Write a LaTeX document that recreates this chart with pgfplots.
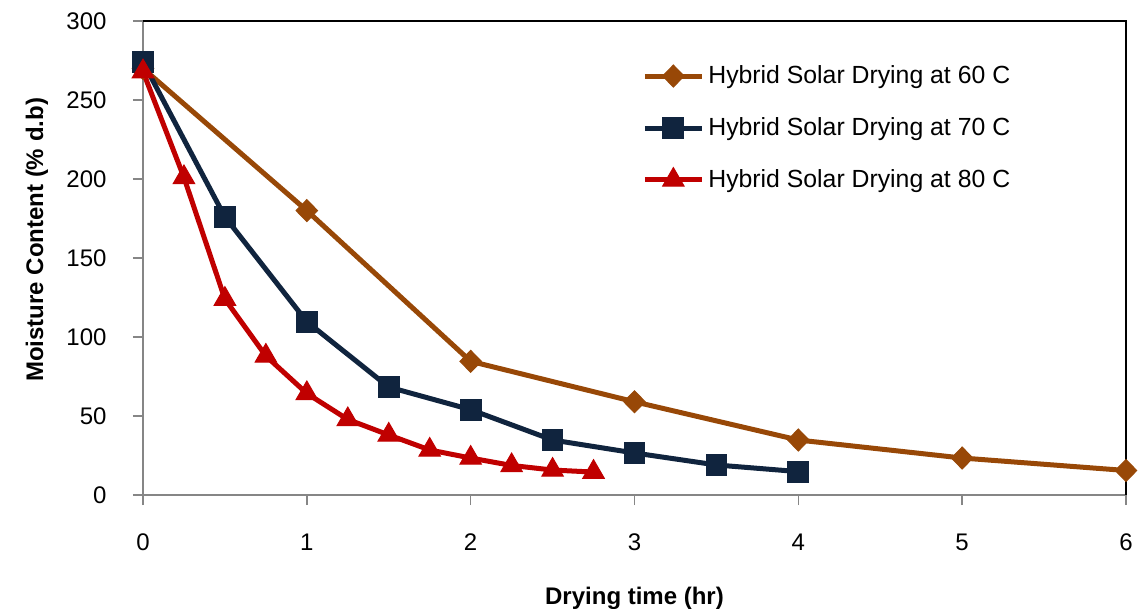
\documentclass[border=0pt]{standalone}
\usepackage{pgfplots}
\pgfplotsset{compat=1.18}
\usepackage{fontspec}
\setmainfont{Liberation Sans}
\definecolor{cBrown}{HTML}{984807}
\definecolor{cNavy}{HTML}{10243E}
\definecolor{cRed}{HTML}{C00000}
\definecolor{cGray}{HTML}{868686}
\begin{document}
\begin{tikzpicture}
\begin{axis}[
  at={(0,0)}, anchor=south west,
  scale only axis, width=491.5pt, height=237pt,
  xmin=0, xmax=6, ymin=0, ymax=300,
  xtick={0,1,2,3,4,5,6}, ytick={0,50,100,150,200,250,300},
  xtick pos=bottom, ytick pos=left,
  tick align=outside, major tick length=5pt,
  tick style={cGray, line width=0.8pt},
  axis line style={cGray, line width=0.8pt},
  clip=false,
  font=\fontsize{12}{14}\selectfont,
  /pgf/number format/assume math mode=true,
  xticklabel style={yshift=-11pt},
  yticklabel style={xshift=-9.7pt},
  xlabel={\bfseries Drying time (hr)},
  ylabel={\bfseries Moisture Content (\% d.b)},
  xlabel style={at={(axis description cs:0.5,-0.23)}, anchor=base},
  ylabel style={at={(axis description cs:-0.1017,0.538)}, anchor=base, rotate=0},
  legend cell align=left,
  legend style={draw=none, fill=none, at={(axis description cs:0.5015,0.9237)}, anchor=north west,
    font=\fontsize{12.4}{14}\selectfont, row sep=11.5pt,
    nodes={inner xsep=2pt}},
  legend image code/.code={\draw[mark repeat=2,mark phase=2,#1] plot coordinates {(0pt,0pt) (14.25pt,0pt) (28.5pt,0pt)};},
  every axis plot/.append style={line width=2.5pt},
]
\addplot[cBrown, mark=diamond*, mark size=5.5pt, mark options={solid, xscale=1.3, line width=0.5pt}] coordinates {
(0,270) (1,180) (2,84.6) (3,59) (4,34.8) (5,23.4) (6,15.5)};
\addlegendentry{Hybrid Solar Drying at 60 C}
\addplot[cNavy, mark=square*, mark size=5.2pt, mark options={solid, line width=0.5pt}] coordinates {
(0,274) (0.5,176) (1,109.7) (1.5,68.3) (2,54) (2.5,34.8) (3,26.6) (3.5,19) (4,14.8)};
\addlegendentry{Hybrid Solar Drying at 70 C}
\addplot[cRed, mark=triangle*, mark size=6.2pt, mark options={solid, line width=0.5pt}] coordinates {
(0,268) (0.25,201) (0.5,124) (0.75,88) (1,64.3) (1.25,47.8) (1.5,38) (1.75,28.5) (2,23.4) (2.25,18.7) (2.5,15.8) (2.75,14.5)};
\addlegendentry{Hybrid Solar Drying at 80 C}
\draw[black, line width=0.8pt] (rel axis cs:0,1) -- (rel axis cs:1,1) -- (rel axis cs:1,0);
\end{axis}
\pgfresetboundingbox
\path[use as bounding box] (-71.5pt,-57pt) rectangle (498.5pt,247.5pt);
\end{tikzpicture}
\end{document}
